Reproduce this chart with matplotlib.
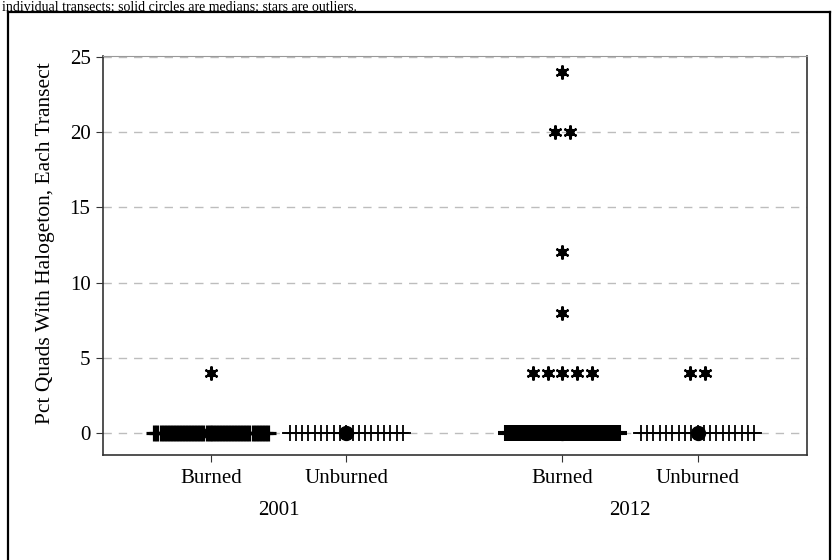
import numpy as np
import matplotlib
matplotlib.use("Agg")
import matplotlib.pyplot as plt
from matplotlib.lines import Line2D

# percent of quadrats with halogeton, one value per transect
burned_2001 = [0] * 38 + [4]
unburned_2001 = [0] * 19
burned_2012 = [0] * 30 + [4, 4, 4, 4, 4, 8, 12, 20, 20, 24]
unburned_2012 = [0] * 19 + [4, 4]

groups = [burned_2001, unburned_2001, burned_2012, unburned_2012]
group_labels = ["Burned", "Unburned", "Burned", "Unburned"]
year_labels = ["2001", "2012"]
yticks = [0, 5, 10, 15, 20, 25]

positions = [1.0, 2.0, 3.6, 4.6]
strip_width = 0.84     # max width taken by tied values
star_step = 0.11       # spacing between stacked points
px_per_unit = 135.0    # horizontal pixels per x unit

plt.rcParams["font.family"] = ["Liberation Serif", "DejaVu Serif"]

fig = plt.figure(figsize=(8.33, 5.6), dpi=100)
ax = fig.add_axes([0.1237, 0.1875, 0.9688 - 0.1237, 0.9 - 0.1875])


def stack_step(n):
    if n == 1:
        return 0.0
    return min(star_step, strip_width / (n - 1))


for pos, vals in zip(positions, groups):
    vals = np.asarray(vals, dtype=float)
    q1, med, q3 = np.percentile(vals, [25, 50, 75])
    fence = q3 + 1.5 * (q3 - q1)
    for v in np.unique(vals):
        n = int((vals == v).sum())
        step = stack_step(n)
        xs = pos + (np.arange(n) - (n - 1) / 2) * step
        ys = np.full(n, v)
        if v > fence:
            ax.plot(xs, ys, ls="none", marker=(6, 2, 0), ms=10, mew=1.6,
                    color="black", zorder=4)
            ax.plot(xs, ys, ls="none", marker="o", ms=5, color="black",
                    zorder=4)
        else:
            # dense strips merge into a dark band
            step_px = step * px_per_unit
            mew = 0.75 * step_px if step_px < 4.5 else 1.3
            ax.plot(xs, ys, ls="none", marker="+", ms=12, mew=mew,
                    color="black", zorder=3)
            ax.plot([xs[0] - 0.04, xs[-1] + 0.04], [v, v], color="black",
                    lw=1.2, zorder=3)
    ax.plot([pos], [med], ls="none", marker="o", ms=10, color="black", zorder=5)

ax.set_xlim(0.2, 5.41)
ax.set_ylim(-1.45, 25.05)
ax.set_yticks(yticks)
ax.set_xticks(positions)
ax.set_xticklabels(group_labels)
ax.tick_params(axis="both", labelsize=15, length=5, width=0.8, color="#333333")
ax.tick_params(axis="x", pad=5)
ax.tick_params(axis="y", pad=4)
ax.yaxis.grid(True, ls=(0, (6, 5)), color="#bdbdbd", lw=1)
ax.set_axisbelow(True)
for s in ax.spines.values():
    s.set_color("#333333")
    s.set_linewidth(1.2)
ax.spines["top"].set_color("#999999")
ax.spines["top"].set_linewidth(0.8)

ax.set_ylabel("Pct Quads With Halogeton, Each Transect", fontsize=15.5)
ax.yaxis.set_label_coords(-0.068, 0.53)

# year labels under each pair of groups
trans = ax.get_xaxis_transform()
for i, yr in enumerate(year_labels):
    xc = (positions[2 * i] + positions[2 * i + 1]) / 2
    ax.text(xc, -0.115, yr, transform=trans, ha="center", va="top", fontsize=15)

# frame around the figure and the caption line above it
top = 1 - 12 / 560
for xy in [([8 / 833, 8 / 833], [0, top]),
           ([8 / 833, 830 / 833], [top, top]),
           ([830 / 833, 830 / 833], [0, top])]:
    fig.add_artist(Line2D(xy[0], xy[1], color="black", lw=1.6))
fig.text(2 / 833, 1 - 1 / 560,
         "individual transects; solid circles are medians; stars are outliers.",
         ha="left", va="top", fontsize=10)

fig.savefig("out.png", dpi=100)
